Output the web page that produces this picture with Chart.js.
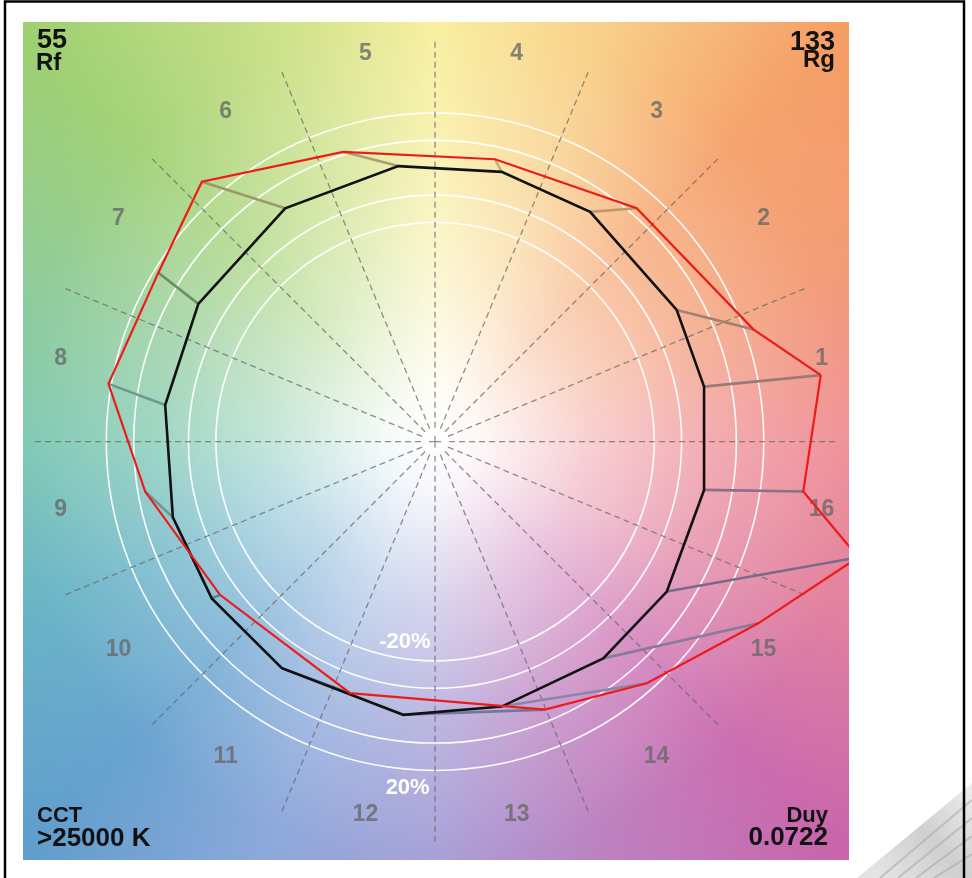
<!DOCTYPE html>
<html>
<head>
<meta charset="utf-8">
<script src="https://cdn.jsdelivr.net/npm/chart.js@4.4.1/dist/chart.umd.min.js"></script>
<style>
  html, body { margin: 0; padding: 0; background: #fff; }
  canvas { display: block; }
</style>
</head>
<body>
<canvas id="cvg" width="972" height="878"></canvas>
<script>
// hue bins 1..16 (unit = reference chroma)
const hueBins = ['1','2','3','4','5','6','7','8','9','10','11','12','13','14','15','16'];

const refX = [0.982, 0.882, 0.566, 0.243, -0.134, -0.547, -0.864, -0.985, -0.957, -0.815, -0.559, -0.116, 0.243, 0.614, 0.846, 0.982];
const refY = [0.201, 0.481, 0.839, 0.985, 1.006, 0.852, 0.503, 0.134, -0.276, -0.572, -0.827, -0.997, -0.967, -0.791, -0.547, -0.176];

const testX = [1.408, 1.162, 0.736, 0.219, -0.335, -0.851, -1.010, -1.192, -1.058, -0.785, -0.310, 0.401, 0.773, 1.180, 1.545, 1.344];
const testY = [0.243, 0.410, 0.852, 1.031, 1.058, 0.949, 0.617, 0.211, -0.182, -0.559, -0.918, -0.978, -0.882, -0.663, -0.422, -0.182];

const arrowColors = ['#9a7a78','#a88070','#c0986a','#c8b070','#a8a070','#9a9a6a','#708a68','#6a9a90',
                     '#6a9a98','#508a88','#6a7a90','#6a7a98','#8a86a8','#8a7a9a','#7a6a88','#8a7088'];

const gridRings = [0.8, 0.9, 1.1, 1.2];
const ringLabels = ['-20%', '20%'];

const rf = '55', rg = '133', cct = '>25000 K', duy = '0.0722';

const canvas = document.getElementById('cvg');
const FONT = '"Liberation Sans", Arial, sans-serif';

const pts = (xs, ys) => xs.map((v, i) => ({ x: v, y: ys[i] }));
const closed = (arr) => arr.concat([arr[0]]);

const datasets = [];
datasets.push({
    label: 'test', data: closed(pts(testX, testY)), showLine: true,
    borderColor: '#ee1a1a', borderWidth: 2.2, pointRadius: 0, order: 0, clip: 0
});
datasets.push({
    label: 'reference', data: closed(pts(refX, refY)), showLine: true,
    borderColor: '#111111', borderWidth: 2.6, pointRadius: 0, order: 1, clip: 0
});
hueBins.forEach((b, i) => {
    datasets.push({
        label: 'shift ' + b,
        data: [{ x: refX[i], y: refY[i] }, { x: testX[i], y: testY[i] }],
        showLine: true, borderColor: arrowColors[i], borderWidth: 2.6,
        pointRadius: 0, order: 2, clip: 0
    });
});

const background = {
    id: 'background',
    beforeDatasetsDraw(chart) {
        const { ctx, chartArea: a, scales: { x, y } } = chart;
        const cx = x.getPixelForValue(0), cy = y.getPixelForValue(0);
        const unit = x.getPixelForValue(1) - cx;
        ctx.save();
        ctx.beginPath();
        ctx.rect(a.left, a.top, a.right - a.left, a.bottom - a.top);
        ctx.clip();

        const g = ctx.createConicGradient(0, cx, cy);
        const stops = ['#ee8890','#e07898','#c862aa','#b878bc','#a098d4','#84a2d8','#5c9ccc','#5eaec2',
                       '#74c4ac','#88c890','#9ccf6e','#c6de80','#f8ee98','#f8cc80','#f59c62','#f2946c','#ee8890'];
        stops.forEach((c, i) => g.addColorStop(i / (stops.length - 1), c));
        ctx.fillStyle = g;
        ctx.fillRect(a.left, a.top, a.right - a.left, a.bottom - a.top);

        const r = ctx.createRadialGradient(cx, cy, 0, cx, cy, 620);
        r.addColorStop(0, 'rgba(255,255,255,1)');
        r.addColorStop(0.08, 'rgba(255,255,255,0.92)');
        r.addColorStop(0.25, 'rgba(255,255,255,0.6)');
        r.addColorStop(0.45, 'rgba(255,255,255,0.3)');
        r.addColorStop(0.68, 'rgba(255,255,255,0.08)');
        r.addColorStop(1, 'rgba(255,255,255,0)');
        ctx.fillStyle = r;
        ctx.fillRect(a.left, a.top, a.right - a.left, a.bottom - a.top);

        // rings
        ctx.strokeStyle = 'rgba(255,255,255,0.95)';
        ctx.lineWidth = 1.6;
        gridRings.forEach(v => {
            ctx.beginPath();
            ctx.arc(cx, cy, v * unit, 0, Math.PI * 2);
            ctx.stroke();
        });

        // dashed spokes on the bin edges
        ctx.strokeStyle = 'rgba(105,105,105,0.75)';
        ctx.lineWidth = 1.3;
        ctx.setLineDash([6, 4]);
        for (let i = 0; i < 16; i++) {
            const t = i * Math.PI / 8;
            ctx.beginPath();
            ctx.moveTo(cx + Math.cos(t) * 14, cy - Math.sin(t) * 14);
            ctx.lineTo(cx + Math.cos(t) * 1.46 * unit, cy - Math.sin(t) * 1.46 * unit);
            ctx.stroke();
        }
        ctx.setLineDash([]);
        ctx.beginPath();
        ctx.moveTo(cx - 6, cy); ctx.lineTo(cx + 6, cy);
        ctx.moveTo(cx, cy - 6); ctx.lineTo(cx, cy + 6);
        ctx.stroke();

        // hue bin numbers
        ctx.fillStyle = 'rgba(105,105,105,0.8)';
        ctx.font = 'bold 23px ' + FONT;
        ctx.textAlign = 'center';
        ctx.textBaseline = 'middle';
        hueBins.forEach((b, i) => {
            const t = (11.25 + 22.5 * i) * Math.PI / 180;
            const px = x.getPixelForValue(0.022 + 1.416 * Math.cos(t));
            const py = y.getPixelForValue(0.028 + 1.416 * Math.sin(t));
            ctx.fillText(b, px, py);
        });

        // ring labels
        ctx.fillStyle = '#ffffff';
        ctx.font = 'bold 22px ' + FONT;
        ctx.fillText(ringLabels[0], x.getPixelForValue(-0.11), y.getPixelForValue(-gridRings[0] + 0.07));
        ctx.fillText(ringLabels[1], x.getPixelForValue(-0.10), y.getPixelForValue(-gridRings[3] - 0.065));

        // corner values
        ctx.fillStyle = '#111';
        ctx.textBaseline = 'alphabetic';
        ctx.textAlign = 'left';
        ctx.font = 'bold 27px ' + FONT;
        ctx.fillText(rf, a.left + 14, a.top + 26);
        ctx.font = 'bold 24px ' + FONT;
        ctx.fillText('Rf', a.left + 13, a.top + 48);
        ctx.font = 'bold 22px ' + FONT;
        ctx.fillText('CCT', a.left + 14, a.bottom - 38);
        ctx.font = 'bold 26px ' + FONT;
        ctx.fillText(cct, a.left + 14, a.bottom - 14);

        ctx.textAlign = 'right';
        ctx.font = 'bold 27px ' + FONT;
        ctx.fillText(rg, a.right - 14, a.top + 28);
        ctx.font = 'bold 24px ' + FONT;
        ctx.fillText('Rg', a.right - 14, a.top + 45);
        ctx.font = 'bold 22px ' + FONT;
        ctx.fillText('Duy', a.right - 21, a.bottom - 38);
        ctx.font = 'bold 26px ' + FONT;
        ctx.fillText(duy, a.right - 21, a.bottom - 15);
        ctx.restore();
    },
    afterDraw(chart) {
        const { ctx } = chart;
        ctx.save();
        // grey scrap in the lower right corner
        const s = ctx.createLinearGradient(880, 878, 972, 790);
        s.addColorStop(0, '#e4e4e4');
        s.addColorStop(0.5, '#cfcfcf');
        s.addColorStop(1, '#ececec');
        ctx.fillStyle = s;
        ctx.beginPath();
        ctx.moveTo(857, 878);
        ctx.lineTo(972, 783);
        ctx.lineTo(972, 878);
        ctx.closePath();
        ctx.fill();
        ctx.strokeStyle = 'rgba(170,170,170,0.6)';
        ctx.lineWidth = 2;
        for (let k = 0; k < 4; k++) {
            ctx.beginPath();
            ctx.moveTo(880 + k * 18, 878);
            ctx.lineTo(972, 800 + k * 18);
            ctx.stroke();
        }
        // frame
        ctx.strokeStyle = '#000';
        ctx.lineWidth = 2.5;
        ctx.strokeRect(5, 1.5, 959, 900);
        ctx.restore();
    }
};

new Chart(canvas, {
    type: 'scatter',
    data: { datasets },
    options: {
        responsive: false,
        animation: false,
        devicePixelRatio: 1,
        layout: { padding: { left: 23, top: 22, right: 123, bottom: 18 } },
        scales: {
            x: { type: 'linear', min: -1.504, max: 1.511, display: false },
            y: { type: 'linear', min: -1.527, max: 1.532, display: false }
        },
        plugins: { legend: { display: false }, tooltip: { enabled: false } }
    },
    plugins: [background]
});
</script>
</body>
</html>
